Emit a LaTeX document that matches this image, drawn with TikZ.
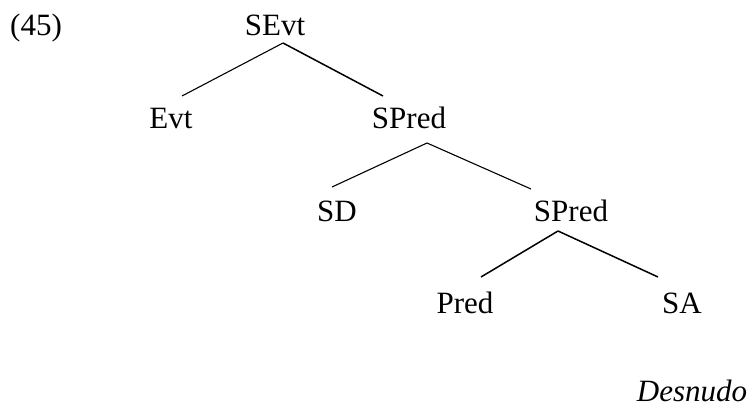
\documentclass[tikz,border=0pt]{standalone}
\usepackage{fontspec}
\setmainfont{Liberation Serif}
\begin{document}
\begin{tikzpicture}[x=1pt,y=1pt,
  lbl/.style={anchor=base, inner sep=0pt, font=\fontsize{31}{36}\selectfont},
  branch/.style={line width=1.1pt},
  thick branch/.style={line width=1.5pt}]
\useasboundingbox (0,0) rectangle (752,408);

% example number
\node[lbl] (num) at (36,372) {(45)};

% tree nodes
\node[lbl] (sevt)   at (275,372) {SEvt};
\node[lbl] (evt)    at (171,280) {Evt};
\node[lbl] (spredA) at (409,280) {SPred};
\node[lbl] (sd)     at (337,187) {SD};
\node[lbl] (spredB) at (571,187) {SPred};
\node[lbl] (pred)   at (465,95)  {Pred};
\node[lbl] (sa)     at (682,95)  {SA};
\node[lbl] (desn)   at (692,7)   {\itshape Desnudo};

% branches
\draw[branch]       ([shift={(8,-7)}]sevt.base)     -- ([shift={(11,32)}]evt.base);
\draw[thick branch] ([shift={(8,-7)}]sevt.base)     -- ([shift={(-26,32)}]spredA.base);
\draw[branch]       ([shift={(18,-15)}]spredA.base) -- ([shift={(-5,34)}]sd.base);
\draw[branch]       ([shift={(18,-15)}]spredA.base) -- ([shift={(-40,32)}]spredB.base);
\draw[thick branch] ([shift={(-13,-10)}]spredB.base) -- ([shift={(16,36)}]pred.base);
\draw[thick branch] ([shift={(-13,-10)}]spredB.base) -- ([shift={(-24,36)}]sa.base);
\end{tikzpicture}
\end{document}
